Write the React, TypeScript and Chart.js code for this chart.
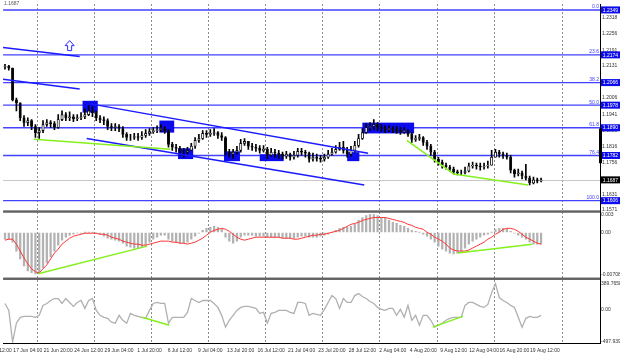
import React, { useEffect, useRef } from 'react';
import { Chart, registerables } from 'chart.js';

Chart.register(...registerables);

const FONT = "'Liberation Sans', Arial, sans-serif";

// ---------- time axis ----------
const TIME_LABELS = [
  '17 Jun 04:00', '21 Jun 20:00', '24 Jun 12:00', '29 Jun 04:00', '1 Jul 20:00', '6 Jul 12:00',
  '9 Jul 04:00', '13 Jul 20:00', '16 Jul 12:00', '21 Jul 04:00', '23 Jul 20:00', '28 Jul 12:00',
  '2 Aug 04:00', '4 Aug 20:00', '9 Aug 12:00', '12 Aug 04:00', '16 Aug 20:00', '19 Aug 12:00',
];
const CLIPPED_LABEL = '14 Jun 12:00';
const LABEL_START = 6;
const LABEL_STEP = 8;
const TOTAL_SLOTS = 157;
const GRID_SLOTS = [9, 24, 39, 54, 69, 84, 99, 114, 129, 147];

// ---------- price (8h bars) ----------
const FIRST_OPEN = 1.2126;
const CLOSE = [
  1.2129, 1.2122, 1.1999, 1.1987, 1.1929, 1.1910, 1.1918, 1.1895, 1.1871, 1.1879,
  1.1902, 1.1910, 1.1906, 1.1891, 1.1922, 1.1941, 1.1929, 1.1933, 1.1925, 1.1929,
  1.1933, 1.1941, 1.1956, 1.1949, 1.1929, 1.1922, 1.1918, 1.1895, 1.1891, 1.1895,
  1.1887, 1.1864, 1.1852, 1.1852, 1.1856, 1.1852, 1.1860, 1.1868, 1.1875, 1.1879,
  1.1883, 1.1887, 1.1879, 1.1825, 1.1814, 1.1810, 1.1795, 1.1795, 1.1802, 1.1818,
  1.1841, 1.1848, 1.1868, 1.1864, 1.1868, 1.1871, 1.1860, 1.1852, 1.1795, 1.1787,
  1.1795, 1.1802, 1.1829, 1.1837, 1.1818, 1.1814, 1.1810, 1.1802, 1.1806, 1.1783,
  1.1795, 1.1791, 1.1787, 1.1779, 1.1787, 1.1775, 1.1783, 1.1798, 1.1795, 1.1791,
  1.1768, 1.1775, 1.1771, 1.1768, 1.1775, 1.1787, 1.1795, 1.1806, 1.1814, 1.1802,
  1.1787, 1.1802, 1.1821, 1.1848, 1.1871, 1.1891, 1.1895, 1.1902, 1.1891, 1.1887,
  1.1883, 1.1887, 1.1883, 1.1879, 1.1875, 1.1879, 1.1864, 1.1845, 1.1848, 1.1852,
  1.1833, 1.1818, 1.1795, 1.1768, 1.1756, 1.1744, 1.1737, 1.1729, 1.1718, 1.1714,
  1.1714, 1.1721, 1.1741, 1.1744, 1.1741, 1.1737, 1.1741, 1.1744, 1.1775, 1.1795,
  1.1787, 1.1783, 1.1775, 1.1725, 1.1710, 1.1714, 1.1702, 1.1694, 1.1675, 1.1687,
  1.1683, 1.1687,
];
const HIGH = [
  1.2137, 1.2133, 1.2122, 1.2006, 1.1987, 1.1937, 1.1929, 1.1922, 1.1902, 1.1891,
  1.1918, 1.1922, 1.1918, 1.1914, 1.1941, 1.1956, 1.1949, 1.1952, 1.1941, 1.1941,
  1.1949, 1.1964, 1.1976, 1.1972, 1.1956, 1.1937, 1.1933, 1.1925, 1.1906, 1.1906,
  1.1902, 1.1895, 1.1871, 1.1864, 1.1868, 1.1868, 1.1875, 1.1883, 1.1887, 1.1891,
  1.1898, 1.1902, 1.1895, 1.1883, 1.1833, 1.1825, 1.1818, 1.1810, 1.1814, 1.1829,
  1.1852, 1.1864, 1.1879, 1.1879, 1.1883, 1.1887, 1.1875, 1.1871, 1.1856, 1.1806,
  1.1806, 1.1818, 1.1845, 1.1848, 1.1837, 1.1829, 1.1825, 1.1821, 1.1821, 1.1814,
  1.1810, 1.1806, 1.1802, 1.1795, 1.1798, 1.1791, 1.1798, 1.1810, 1.1810, 1.1802,
  1.1795, 1.1791, 1.1787, 1.1783, 1.1787, 1.1802, 1.1810, 1.1821, 1.1833, 1.1837,
  1.1814, 1.1818, 1.1837, 1.1864, 1.1887, 1.1906, 1.1910, 1.1922, 1.1910, 1.1902,
  1.1898, 1.1898, 1.1895, 1.1895, 1.1891, 1.1891, 1.1883, 1.1871, 1.1860, 1.1864,
  1.1856, 1.1841, 1.1825, 1.1802, 1.1775, 1.1764, 1.1752, 1.1744, 1.1737, 1.1725,
  1.1725, 1.1737, 1.1752, 1.1756, 1.1752, 1.1752, 1.1752, 1.1760, 1.1802, 1.1806,
  1.1802, 1.1795, 1.1791, 1.1783, 1.1729, 1.1729, 1.1721, 1.1748, 1.1702, 1.1698,
  1.1694, 1.1694,
];
const LOW = [
  1.2118, 1.2114, 1.1995, 1.1956, 1.1918, 1.1895, 1.1898, 1.1883, 1.1852, 1.1848,
  1.1871, 1.1895, 1.1891, 1.1883, 1.1887, 1.1918, 1.1918, 1.1918, 1.1914, 1.1918,
  1.1922, 1.1925, 1.1937, 1.1933, 1.1918, 1.1910, 1.1902, 1.1883, 1.1879, 1.1879,
  1.1875, 1.1852, 1.1841, 1.1841, 1.1845, 1.1841, 1.1845, 1.1852, 1.1860, 1.1868,
  1.1871, 1.1875, 1.1868, 1.1814, 1.1802, 1.1795, 1.1783, 1.1775, 1.1787, 1.1802,
  1.1810, 1.1833, 1.1845, 1.1852, 1.1856, 1.1860, 1.1848, 1.1841, 1.1783, 1.1775,
  1.1771, 1.1787, 1.1795, 1.1821, 1.1806, 1.1802, 1.1798, 1.1791, 1.1795, 1.1771,
  1.1779, 1.1775, 1.1771, 1.1768, 1.1771, 1.1764, 1.1768, 1.1775, 1.1783, 1.1775,
  1.1756, 1.1760, 1.1760, 1.1756, 1.1760, 1.1771, 1.1783, 1.1791, 1.1802, 1.1791,
  1.1775, 1.1779, 1.1795, 1.1814, 1.1845, 1.1868, 1.1879, 1.1883, 1.1879, 1.1875,
  1.1871, 1.1875, 1.1871, 1.1868, 1.1864, 1.1868, 1.1856, 1.1833, 1.1837, 1.1841,
  1.1821, 1.1806, 1.1783, 1.1756, 1.1744, 1.1733, 1.1729, 1.1721, 1.1710, 1.1706,
  1.1706, 1.1710, 1.1718, 1.1733, 1.1729, 1.1725, 1.1729, 1.1733, 1.1744, 1.1775,
  1.1775, 1.1771, 1.1768, 1.1714, 1.1698, 1.1702, 1.1691, 1.1687, 1.1667, 1.1671,
  1.1675, 1.1679,
];

// ---------- MACD ----------
const MACD_HIST = [
  -0.00112, -0.00112, -0.00162, -0.00311, -0.00443, -0.00559, -0.00641, -0.00674, -0.00691, -0.00674,
  -0.00592, -0.00509, -0.0041, -0.00311, -0.00212, -0.00129, -0.00079, -0.00046, -0.0003, -0.00013,
  -0.00013, 0.00003, 0.00003, 0.00003, -0.00013, -0.0003, -0.00063, -0.00096, -0.00112, -0.00129,
  -0.00145, -0.00179, -0.00228, -0.00245, -0.00261, -0.00261, -0.00245, -0.00212, -0.00162, -0.00112,
  -0.00079, -0.00046, -0.00046, -0.00112, -0.00145, -0.00162, -0.00179, -0.00179, -0.00162, -0.00112,
  -0.00063, -0.00013, 0.00036, 0.00069, 0.00086, 0.00102, 0.00086, 0.00053, -0.00079, -0.00145,
  -0.00179, -0.00145, -0.00079, -0.00046, -0.00046, -0.00046, -0.00063, -0.00063, -0.00063, -0.00079,
  -0.00079, -0.00079, -0.00079, -0.00096, -0.00096, -0.00096, -0.00096, -0.00079, -0.00063, -0.00063,
  -0.00079, -0.00079, -0.00079, -0.00063, -0.00046, -0.0003, 0.00003, 0.00036, 0.00069, 0.00086,
  0.00086, 0.00102, 0.00136, 0.00202, 0.00251, 0.00284, 0.00301, 0.00301, 0.00284, 0.00251,
  0.00235, 0.00202, 0.00169, 0.00152, 0.00119, 0.00102, 0.00069, 0.00036, 0.0002, 0.00003,
  -0.0003, -0.00063, -0.00112, -0.00162, -0.00228, -0.00278, -0.00311, -0.00344, -0.0036, -0.00344,
  -0.00311, -0.00261, -0.00195, -0.00145, -0.00112, -0.00079, -0.00046, -0.0003, 0.00003, 0.00053,
  0.00069, 0.00069, 0.00053, 0.0002, -0.00013, -0.00046, -0.00079, -0.00112, -0.00162, -0.00195,
  -0.00195, -0.00195,
];
const MACD_SIGNAL = [
  -0.00129, -0.00112, -0.00112, -0.00195, -0.00311, -0.00426, -0.00526, -0.00608, -0.00658, -0.00674,
  -0.00608, -0.00542, -0.00443, -0.00344, -0.00278, -0.00195, -0.00145, -0.00096, -0.00063, -0.00046,
  -0.0003, -0.00013, -0.00013, -0.00013, -0.00013, -0.0003, -0.0003, -0.00046, -0.00079, -0.00096,
  -0.00112, -0.00145, -0.00162, -0.00179, -0.00195, -0.00195, -0.00212, -0.00212, -0.00195, -0.00179,
  -0.00162, -0.00145, -0.00145, -0.00145, -0.00162, -0.00162, -0.00179, -0.00179, -0.00195, -0.00179,
  -0.00162, -0.00129, -0.00096, -0.00046, 0.00003, 0.00036, 0.00053, 0.00069, 0.00053, 0.0002,
  -0.0003, -0.00079, -0.00112, -0.00129, -0.00112, -0.00096, -0.00079, -0.00079, -0.00079, -0.00079,
  -0.00079, -0.00079, -0.00079, -0.00096, -0.00096, -0.00096, -0.00112, -0.00112, -0.00096, -0.00079,
  -0.00063, -0.00046, -0.00046, -0.0003, -0.0003, -0.00013, 0.00003, 0.0002, 0.00036, 0.00069,
  0.00102, 0.00136, 0.00152, 0.00169, 0.00202, 0.00218, 0.00235, 0.00251, 0.00251, 0.00251,
  0.00251, 0.00235, 0.00218, 0.00202, 0.00185, 0.00169, 0.00136, 0.00119, 0.00086, 0.00069,
  0.00053, 0.00003, -0.0003, -0.00079, -0.00112, -0.00145, -0.00195, -0.00261, -0.00294, -0.00311,
  -0.00311, -0.00311, -0.00294, -0.00261, -0.00228, -0.00195, -0.00162, -0.00112, -0.00079, -0.0003,
  0.00003, 0.00053, 0.00069, 0.00069, 0.00053, 0.0002, -0.0003, -0.00079, -0.00112, -0.00145,
  -0.00179, -0.00195,
];

// ---------- CCI ----------
const CCI = [
  89, -17, -497.939, -212, -122, -107, -107, -107, -122, -92,
  59, 89, 134, 164, 164, 89, 164, 104, 44, 104,
  134, 14, 134, 164, -17, -92, -122, -137, -197, -212,
  -92, -167, -212, -62, -92, -107, -122, -137, -17, 89,
  104, 89, 89, -212, -122, -122, -122, -122, -47, 164,
  134, 104, 134, 134, 134, 89, 29, -92, -272, -167,
  -92, -17, 29, 44, 44, 29, 14, -62, -47, -212,
  -62, -47, -17, -17, -17, -47, -62, 104, 104, 89,
  -92, -62, -77, -92, -1, 104, 209, 164, 14, 164,
  104, 104, 209, 239, 194, 164, 119, 89, 29, -1,
  -17, 14, 14, -92, -1, -122, 59, -167, -92, -242,
  -92, -92, -167, -272, -242, -212, -167, -137, -122, -122,
  -122, 59, 104, 104, 74, 44, 29, 74, 254, 389.7658,
  179, 134, 104, 59, 29, -122, -272, -137, -107, -122,
  -122, -92,
];

// ---------- axes ----------
const PRICE_MIN = 1.15636;
const PRICE_MAX = 1.23721;
const PRICE_TICKS = [1.2318, 1.2256, 1.2191, 1.2131, 1.2006, 1.1941, 1.1880, 1.1816, 1.1756, 1.1631, 1.1571];
const MACD_MIN = -0.00774;
const MACD_MAX = 0.0035;
const MACD_TICKS = [0.003, 0, -0.00708];
const MACD_TICK_TEXT = ['0.003', '0.00', '-0.00708'];
const CCI_MIN = -513;
const CCI_MAX = 465;
const CCI_TICKS = [389.7658, 0, -497.939];
const CCI_TICK_TEXT = ['389.7658', '0.00', '-497.939'];

// ---------- drawn objects (bar index, value) ----------
const FIB_LEVELS = [1.2349, 1.2174, 1.2066, 1.1978, 1.1890, 1.1782, 1.1606];
const FIB_NAMES = ['0.0', '23.6', '38.2', '50.0', '61.8', '76.4', '100.0'];
const LAST_PRICE = 1.1687;
const RANGE_MARK = [1.1887, 1.1752];
const BLUE_LINES = [
  [-0.5, 1.2203, 19.65, 1.2168],
  [-0.5, 1.2079, 19.65, 1.2041],
  [22.5, 1.1983, 95.5, 1.1791],
  [21.5, 1.1848, 94.5, 1.1667],
];
const GREEN_PRICE = [
  [7.6, 1.1845, 43.5, 1.1806],
  [105.7, 1.1841, 118.0, 1.1710],
  [118.0, 1.1710, 137.6, 1.1667],
];
const GREEN_MACD = [
  [8.7, -0.00691, 37.4, -0.00228],
  [119.1, -0.00344, 138.7, -0.00195],
];
const GREEN_CCI = [
  [36.1, -122, 43.2, -242],
  [112.5, -272, 120.4, -107],
];
const BOXES = [
  [20.4, 1.1995, 24.4, 1.1949],
  [40.6, 1.1918, 44.5, 1.1871],
  [45.5, 1.1810, 49.5, 1.1768],
  [57.6, 1.1798, 61.8, 1.1760],
  [67.0, 1.1787, 73.3, 1.1760],
  [90.0, 1.1795, 93.2, 1.1760],
  [94.0, 1.1910, 107.6, 1.1868],
];
const ARROW_AT = [17.0, 1.2210];

function seg(ctx: CanvasRenderingContext2D, x1: number, y1: number, x2: number, y2: number) {
  ctx.beginPath();
  ctx.moveTo(x1, y1);
  ctx.lineTo(x2, y2);
  ctx.stroke();
}

const overlay = {
  id: 'overlay',
  beforeDatasetsDraw(chart: any) {
    const { ctx, chartArea: a, scales } = chart;
    const xs = scales.x, ys = scales.y;
    ctx.save();
    // dashed vertical grid
    ctx.strokeStyle = '#8c8c8c';
    ctx.lineWidth = 1;
    ctx.setLineDash([2, 2]);
    GRID_SLOTS.forEach((s) => {
      const px = Math.round(xs.getPixelForValue(s - 0.5)) + 0.5;
      seg(ctx, px, a.top, px, a.bottom);
    });
    ctx.setLineDash([]);
    // current price line
    ctx.strokeStyle = '#c8c8c8';
    const lp = Math.round(ys.getPixelForValue(LAST_PRICE)) + 0.5;
    seg(ctx, a.left, lp, a.right, lp);
    // fibonacci lines
    ctx.strokeStyle = '#4242ff';
    ctx.lineWidth = 1.4;
    FIB_LEVELS.forEach((v) => {
      const py = ys.getPixelForValue(v);
      seg(ctx, a.left, py, a.right, py);
    });
    // rectangles
    ctx.fillStyle = '#0b0bee';
    BOXES.forEach(([i1, p1, i2, p2]) => {
      const x1 = xs.getPixelForValue(i1), x2 = xs.getPixelForValue(i2);
      const y1 = ys.getPixelForValue(p1), y2 = ys.getPixelForValue(p2);
      ctx.fillRect(x1, y1, x2 - x1, y2 - y1);
    });
    ctx.restore();
  },
  afterDatasetsDraw(chart: any) {
    const { ctx, chartArea: a, scales } = chart;
    const xs = scales.x, ys = scales.y, ms = scales.macd, cs = scales.cci;
    ctx.save();
    ctx.lineWidth = 1.5;
    ctx.strokeStyle = '#1a1aff';
    BLUE_LINES.forEach(([i1, p1, i2, p2]) => seg(ctx, xs.getPixelForValue(i1), ys.getPixelForValue(p1), xs.getPixelForValue(i2), ys.getPixelForValue(p2)));
    ctx.strokeStyle = '#84f01c';
    GREEN_PRICE.forEach(([i1, p1, i2, p2]) => seg(ctx, xs.getPixelForValue(i1), ys.getPixelForValue(p1), xs.getPixelForValue(i2), ys.getPixelForValue(p2)));
    GREEN_MACD.forEach(([i1, p1, i2, p2]) => seg(ctx, xs.getPixelForValue(i1), ms.getPixelForValue(p1), xs.getPixelForValue(i2), ms.getPixelForValue(p2)));
    GREEN_CCI.forEach(([i1, p1, i2, p2]) => seg(ctx, xs.getPixelForValue(i1), cs.getPixelForValue(p1), xs.getPixelForValue(i2), cs.getPixelForValue(p2)));
    // hollow up arrow
    const ax = xs.getPixelForValue(ARROW_AT[0]);
    const ay = ys.getPixelForValue(ARROW_AT[1]);
    ctx.strokeStyle = '#2a2aff';
    ctx.lineWidth = 1;
    ctx.beginPath();
    ctx.moveTo(ax, ay - 5);
    ctx.lineTo(ax + 4.5, ay);
    ctx.lineTo(ax + 2, ay);
    ctx.lineTo(ax + 2, ay + 5);
    ctx.lineTo(ax - 2, ay + 5);
    ctx.lineTo(ax - 2, ay);
    ctx.lineTo(ax - 4.5, ay);
    ctx.closePath();
    ctx.stroke();
    // pane separators
    ctx.fillStyle = '#626262';
    ctx.fillRect(a.left, ms.top - 1.2, a.right - a.left, 2.4);
    ctx.fillRect(a.left, cs.top - 1.2, a.right - a.left, 2.4);
    ctx.restore();
  },
  afterDraw(chart: any) {
    const { ctx, chartArea: a, scales } = chart;
    const xs = scales.x, ys = scales.y;
    ctx.save();
    ctx.font = `5px ${FONT}`;
    // fib level names
    ctx.fillStyle = '#3a3aff';
    ctx.textAlign = 'right';
    ctx.textBaseline = 'bottom';
    FIB_LEVELS.forEach((v, k) => ctx.fillText(FIB_NAMES[k], a.right - 1, ys.getPixelForValue(v) - 0.5));
    // axis price boxes
    ctx.textAlign = 'center';
    ctx.textBaseline = 'middle';
    const bx = ys.left + 1;
    FIB_LEVELS.forEach((v) => {
      const py = ys.getPixelForValue(v);
      ctx.fillStyle = '#0b0bee';
      ctx.fillRect(bx, py - 3.5, 19, 7);
      ctx.fillStyle = '#ffffff';
      ctx.fillText(v.toFixed(4), bx + 9.5, py + 0.3);
    });
    const lp = ys.getPixelForValue(LAST_PRICE);
    ctx.fillStyle = '#000000';
    ctx.fillRect(bx, lp - 3.5, 19, 7);
    ctx.fillStyle = '#ffffff';
    ctx.fillText(LAST_PRICE.toFixed(4), bx + 9.5, lp + 0.3);
    // range marker on axis
    ctx.fillStyle = '#000000';
    const r1 = ys.getPixelForValue(RANGE_MARK[0]);
    const r2 = ys.getPixelForValue(RANGE_MARK[1]);
    ctx.fillRect(ys.left - 1, r1, 3, r2 - r1);
    // title remainder
    ctx.fillStyle = '#555555';
    ctx.textAlign = 'left';
    ctx.textBaseline = 'top';
    ctx.fillText(LAST_PRICE.toFixed(4), 4, 1);
    // clipped first time label
    ctx.fillStyle = '#333333';
    ctx.textAlign = 'center';
    ctx.textBaseline = 'middle';
    ctx.fillText(CLIPPED_LABEL, xs.getPixelForValue(LABEL_START - LABEL_STEP), xs.top + 7.5);
    ctx.restore();
  },
};

export default function App() {
  const ref = useRef<HTMLCanvasElement | null>(null);

  useEffect(() => {
    document.body.style.margin = '0';
    document.body.style.background = '#ffffff';
    const canvas = ref.current;
    if (!canvas) return;

    const slots: string[] = [];
    for (let i = 0; i < TOTAL_SLOTS; i++) {
      const k = (i - LABEL_START) / LABEL_STEP;
      slots.push(Number.isInteger(k) && k >= 0 && k < TIME_LABELS.length ? TIME_LABELS[k] : '');
    }
    const opens = CLOSE.map((_, i) => (i === 0 ? FIRST_OPEN : CLOSE[i - 1]));
    const wicks = CLOSE.map((_, i) => [LOW[i], HIGH[i]]);
    const bodies = CLOSE.map((c, i) => [opens[i], c]);
    const bodyColors = CLOSE.map((c, i) => (c >= opens[i] ? '#ffffff' : '#000000'));

    const small = { size: 5, family: FONT };
    const fixWidth = (s: any) => { s.width = 20; };

    const chart = new Chart(canvas, {
      type: 'bar',
      data: {
        labels: slots,
        datasets: [
          {
            type: 'bar', data: bodies as any, yAxisID: 'y', grouped: false, barThickness: 2.4,
            backgroundColor: bodyColors, borderColor: '#111111', borderWidth: 0.9, borderSkipped: false, order: 0,
          },
          {
            type: 'bar', data: wicks as any, yAxisID: 'y', grouped: false, barThickness: 1,
            backgroundColor: '#000000', order: 1,
          },
          {
            type: 'line', data: MACD_SIGNAL, yAxisID: 'macd', borderColor: '#ff3434', borderWidth: 1,
            pointRadius: 0, tension: 0, order: 2,
          },
          {
            type: 'bar', data: MACD_HIST, yAxisID: 'macd', grouped: false, barThickness: 1.6,
            backgroundColor: '#b2b2b2', order: 3,
          },
          {
            type: 'line', data: CCI, yAxisID: 'cci', borderColor: '#b0b0b0', borderWidth: 1.3,
            pointRadius: 0, tension: 0, order: 4,
          },
        ] as any,
      },
      options: {
        responsive: false,
        animation: false,
        devicePixelRatio: 1,
        layout: { padding: 0 },
        plugins: { legend: { display: false }, tooltip: { enabled: false } },
        scales: {
          x: {
            type: 'category',
            offset: true,
            grid: { display: false, drawTicks: false },
            border: { display: true, color: '#000000', width: 1 },
            ticks: { autoSkip: false, maxRotation: 0, minRotation: 0, padding: 5, color: '#333333', font: small },
            afterFit: (s: any) => { s.height = 14; },
          },
          y: {
            type: 'linear', position: 'right', stack: 'panes', stackWeight: 210, weight: 1,
            min: PRICE_MIN, max: PRICE_MAX,
            grid: { drawOnChartArea: false, tickLength: 1, color: '#000000' },
            border: { display: true, color: '#000000', width: 1 },
            ticks: { autoSkip: false, padding: 1, color: '#333333', font: small, callback: (v: any) => Number(v).toFixed(4) },
            afterBuildTicks: (s: any) => { s.ticks = PRICE_TICKS.map((v) => ({ value: v })); },
            afterFit: fixWidth,
          },
          macd: {
            type: 'linear', position: 'right', stack: 'panes', stackWeight: 68, weight: 2,
            min: MACD_MIN, max: MACD_MAX,
            grid: { drawOnChartArea: false, tickLength: 1, color: '#000000' },
            border: { display: true, color: '#000000', width: 1 },
            ticks: {
              autoSkip: false, padding: 0, color: '#333333', font: small,
              callback: (v: any) => { const k = MACD_TICKS.indexOf(Number(v)); return k >= 0 ? MACD_TICK_TEXT[k] : ''; },
            },
            afterBuildTicks: (s: any) => { s.ticks = MACD_TICKS.map((v) => ({ value: v })); },
            afterFit: fixWidth,
          },
          cci: {
            type: 'linear', position: 'right', stack: 'panes', stackWeight: 65, weight: 3,
            min: CCI_MIN, max: CCI_MAX,
            grid: { drawOnChartArea: false, tickLength: 1, color: '#000000' },
            border: { display: true, color: '#000000', width: 1 },
            ticks: {
              autoSkip: false, padding: 0, color: '#333333', font: small,
              callback: (v: any) => { const k = CCI_TICKS.indexOf(Number(v)); return k >= 0 ? CCI_TICK_TEXT[k] : ''; },
            },
            afterBuildTicks: (s: any) => { s.ticks = CCI_TICKS.map((v) => ({ value: v })); },
            afterFit: fixWidth,
          },
        } as any,
      },
      plugins: [overlay],
    });

    return () => chart.destroy();
  }, []);

  return (
    <div style={{ width: 620, height: 357, background: '#ffffff' }}>
      <canvas ref={ref} width={620} height={357} />
    </div>
  );
}
